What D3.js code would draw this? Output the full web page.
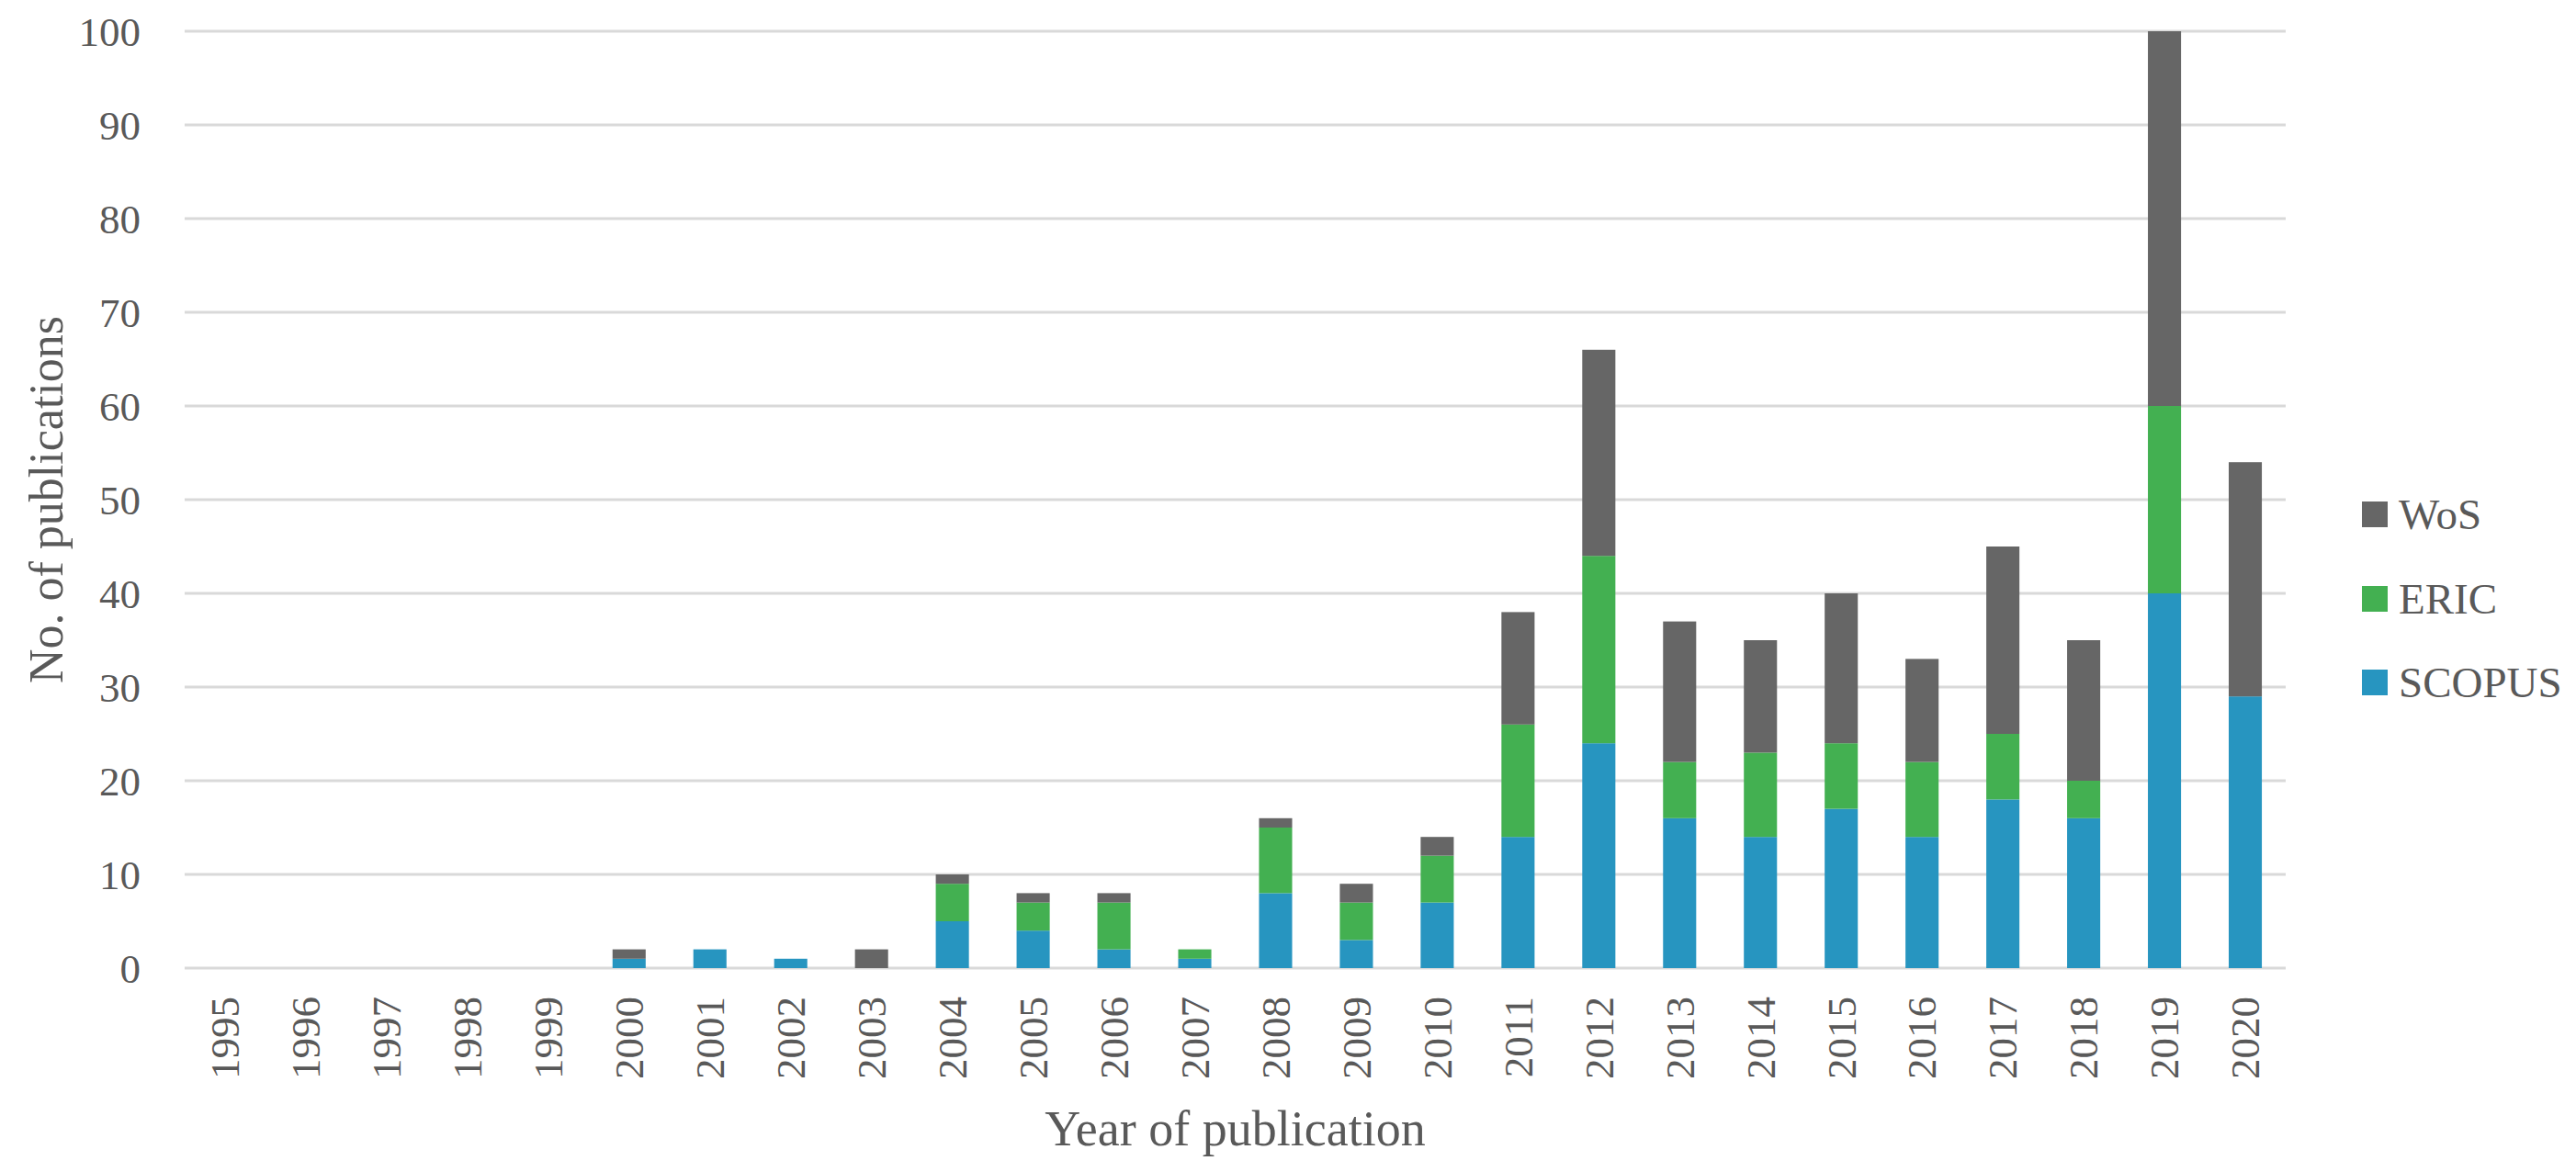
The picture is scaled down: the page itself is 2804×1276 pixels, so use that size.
<!DOCTYPE html>
<html>
<head>
<meta charset="utf-8">
<script src="https://cdn.jsdelivr.net/npm/d3@7"></script>
<style>
  html, body { margin: 0; padding: 0; background: #fff; }
  svg { display: block; }
  text { font-family: "Liberation Serif", "DejaVu Serif", serif; fill: #595959; }
</style>
</head>
<body>
<svg id="chart" width="2804" height="1276"></svg>
<script>
const years = ["1995","1996","1997","1998","1999","2000","2001","2002","2003","2004","2005","2006","2007","2008","2009","2010","2011","2012","2013","2014","2015","2016","2017","2018","2019","2020"];
const scopus = [0,0,0,0,0,1,2,1,0,5,4,2,1,8,3,7,14,24,16,14,17,14,18,16,40,29];
const eric   = [0,0,0,0,0,0,0,0,0,4,3,5,1,7,4,5,12,20,6,9,7,8,7,4,20,0];
const wos    = [0,0,0,0,0,1,0,0,2,1,1,1,0,1,2,2,12,22,15,12,16,11,20,15,40,25];
const seriesNames = ["SCOPUS","ERIC","WoS"];
const seriesColors = ["#2795c0","#43b051","#666666"];
const yTicks = [0,10,20,30,40,50,60,70,80,90,100];
const xTitle = "Year of publication";
const yTitle = "No. of publications";

(function () {
const svg = d3.select("#chart");
const mLeft = 201, mRight = 2488, mTop = 34, mBottom = 1054;

const x = d3.scaleBand().domain(years).range([mLeft, mRight]).paddingInner(0.59).paddingOuter(0.295);
const y = d3.scaleLinear().domain([0, 100]).range([mBottom, mTop]);

const table = years.map((yr, i) => ({year: yr, SCOPUS: scopus[i], ERIC: eric[i], WoS: wos[i]}));
const stacked = d3.stack().keys(seriesNames)(table);
const color = d3.scaleOrdinal().domain(seriesNames).range(seriesColors);

// gridlines
svg.append("g").selectAll("line").data(yTicks).join("line")
  .attr("x1", mLeft).attr("x2", mRight)
  .attr("y1", d => y(d)).attr("y2", d => y(d))
  .attr("stroke", "#d9d9d9").attr("stroke-width", 3);

// y axis labels
const yAxis = d3.axisLeft(y).tickValues(yTicks).tickSize(0).tickPadding(0);
const gy = svg.append("g").attr("transform", `translate(153,0)`).call(yAxis);
gy.select(".domain").remove();
gy.selectAll("text").attr("font-size", 45).attr("font-family", "Liberation Serif").attr("fill", "#595959").attr("dy", "0.34em");

// bars
svg.append("g").selectAll("g").data(stacked).join("g")
  .attr("fill", d => color(d.key))
  .selectAll("rect").data(d => d.filter(p => p[1] - p[0] > 0)).join("rect")
  .attr("x", d => x(d.data.year))
  .attr("width", x.bandwidth())
  .attr("y", d => y(d[1]))
  .attr("height", d => y(d[0]) - y(d[1]));

// x axis labels
const xAxis = d3.axisBottom(x).tickSize(0).tickPadding(0);
const gx = svg.append("g").attr("transform", `translate(0,${mBottom})`).call(xAxis);
gx.select(".domain").remove();
gx.selectAll("text")
  .attr("font-size", 45).attr("font-family", "Liberation Serif").attr("fill", "#595959")
  .attr("text-anchor", "end")
  .attr("transform", "translate(0,31) rotate(-90)")
  .attr("x", 0).attr("y", 0).attr("dy", "0.34em");

// axis titles
svg.append("text").attr("x", (mLeft + mRight) / 2).attr("y", 1247)
  .attr("text-anchor", "middle").attr("font-size", 54).text(xTitle);
svg.append("text").attr("transform", `translate(68,${(mTop + mBottom) / 2}) rotate(-90)`)
  .attr("text-anchor", "middle").attr("font-size", 52).text(yTitle);

// legend
const legendOrder = ["WoS","ERIC","SCOPUS"];
const legendY = [560, 652, 743];
const lg = svg.append("g").selectAll("g").data(legendOrder).join("g")
  .attr("transform", (d, i) => `translate(2571,${legendY[i]})`);
lg.append("rect").attr("x", 0).attr("y", -14).attr("width", 28).attr("height", 28).attr("fill", d => color(d));
lg.append("text").attr("x", 40).attr("y", 0).attr("dy", "0.34em").attr("font-size", 47).text(d => d);
})();
</script>
</body>
</html>
